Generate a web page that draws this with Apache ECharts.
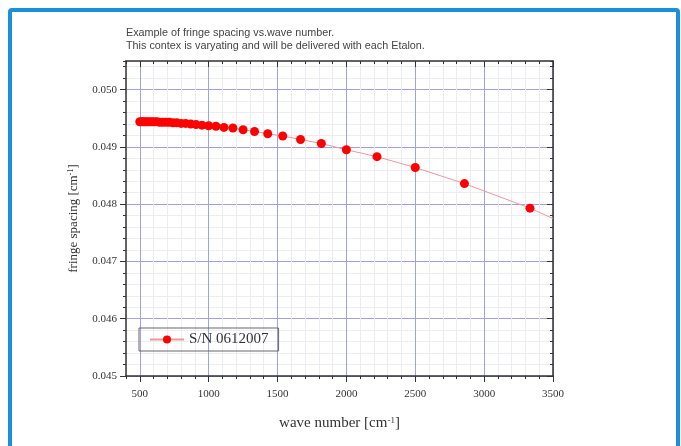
<!DOCTYPE html>
<html>
<head>
<meta charset="utf-8">
<script src="https://cdn.jsdelivr.net/npm/echarts@6/dist/echarts.min.js"></script>
<style>
  html, body { margin: 0; padding: 0; background: #fff; }
  #chart { width: 681px; height: 446px; }
</style>
</head>
<body>
<div id="chart"></div>
<script>
// wave number [cm-1] of each measured point
const waveNumbers = [500, 513, 526, 541, 556, 571, 588, 606, 625, 645, 667, 690, 714, 741, 769, 800, 833, 870, 909, 952,
    1000, 1053, 1111, 1176, 1250, 1333, 1429, 1538, 1667, 1818, 2000, 2222, 2500, 2857, 3333];
// fringe spacing [cm-1]
const fringeSpacing = [0.04944, 0.04944, 0.04944, 0.04944, 0.04944, 0.04944, 0.04944, 0.04944, 0.04944, 0.04943, 0.04943, 0.04943, 0.04943, 0.04942, 0.04942, 0.04941, 0.04941, 0.04940, 0.04939, 0.04938,
    0.04937, 0.04936, 0.04934, 0.04933, 0.04930, 0.04927, 0.04923, 0.04919, 0.04913, 0.04906, 0.04895, 0.04883, 0.04864, 0.04836, 0.04793];
// the fitted curve runs on to the right edge
const fitEnd = [3500, 0.04775];

const xTicks = [500, 1000, 1500, 2000, 2500, 3000, 3500];
const yTicks = [0.045, 0.046, 0.047, 0.048, 0.049, 0.050];
const titleLines = ['Example of fringe spacing vs.wave number.', 'This contex is varyating and will be delivered with each Etalon.'];
const seriesName = 'S/N 0612007';

const MAJOR = '#a0a0e4', MINOR = '#ececf3', AXIS = '#333';
const SERIF = 'Liberation Serif';

const chart = echarts.init(document.getElementById('chart'));

const pts = waveNumbers.map((w, i) => [w, fringeSpacing[i]]);
pts.push({ value: fitEnd, symbol: 'none' });

function xAx(extra) {
    return Object.assign({
        type: 'value', min: 400, max: 3500, interval: 100,
        axisLine: { show: false }, axisTick: { show: false }, axisLabel: { show: false }, splitLine: { show: false }
    }, extra);
}
function yAx(extra) {
    return Object.assign({
        type: 'value', min: 0.045, max: 0.0505, interval: 0.0002,
        axisLine: { show: false }, axisTick: { show: false }, axisLabel: { show: false }, splitLine: { show: false }
    }, extra);
}

chart.setOption({
    animation: false,
    title: {
        text: titleLines.join('\n'),
        left: 121, top: 22,
        textStyle: { fontFamily: 'Liberation Sans', fontSize: 10.8, fontWeight: 'normal', color: '#444', lineHeight: 13 }
    },
    grid: { left: 126, right: 128, top: 61, bottom: 70 },
    legend: {
        left: 139, top: 328,
        data: [seriesName],
        itemWidth: 34, itemHeight: 10, itemGap: 0,
        padding: [4, 10, 4, 10],
        borderColor: '#666', borderWidth: 1,
        textStyle: { fontFamily: SERIF, fontSize: 15, color: '#333' }
    },
    xAxis: [
        xAx({
            position: 'bottom',
            axisLine: { show: true, lineStyle: { color: AXIS, width: 1.5 } },
            axisTick: { show: true, length: 3, lineStyle: { color: AXIS } },
            axisLabel: { show: true, customValues: xTicks, margin: 13, fontFamily: SERIF, fontSize: 11, color: '#333',
                formatter: v => String(v) },
            splitLine: { show: true, lineStyle: { width: 1, color: MINOR } },
            name: 'wave number [cm{sup|-1}]', nameLocation: 'middle', nameGap: 40,
            nameTextStyle: { fontFamily: SERIF, fontSize: 15, color: '#333',
                rich: { sup: { fontFamily: SERIF, fontSize: 9, verticalAlign: 'top', color: '#333' } } }
        }),
        xAx({ position: 'bottom',
            axisTick: { show: true, customValues: xTicks, length: 6, lineStyle: { color: AXIS } },
            splitLine: { show: true, lineStyle: { width: 1, color: MAJOR } } }),
        xAx({ position: 'top',
            axisLine: { show: true, lineStyle: { color: AXIS, width: 1.5 } },
            axisTick: { show: true, inside: true, length: 3, lineStyle: { color: AXIS } } }),
        xAx({ position: 'top', axisTick: { show: true, inside: true, customValues: xTicks, length: 6, lineStyle: { color: AXIS } } })
    ],
    yAxis: [
        yAx({
            position: 'left',
            axisLine: { show: true, lineStyle: { color: AXIS, width: 1.5 } },
            axisTick: { show: true, length: 3, lineStyle: { color: AXIS } },
            axisLabel: { show: true, customValues: yTicks, margin: 9, fontFamily: SERIF, fontSize: 11, color: '#333',
                formatter: v => v.toFixed(3) },
            splitLine: { show: true, lineStyle: { width: 1, color: MINOR } },
            name: 'fringe spacing [cm{sup|-1}]', nameLocation: 'middle', nameGap: 46,
            nameTextStyle: { fontFamily: SERIF, fontSize: 13, color: '#333',
                rich: { sup: { fontFamily: SERIF, fontSize: 8, verticalAlign: 'top', color: '#333' } } }
        }),
        yAx({ position: 'left',
            axisTick: { show: true, customValues: yTicks, length: 6, lineStyle: { color: AXIS } },
            splitLine: { show: true, lineStyle: { width: 1, color: MAJOR } } }),
        yAx({ position: 'right',
            axisLine: { show: true, lineStyle: { color: AXIS, width: 1.5 } },
            axisTick: { show: true, inside: true, length: 3, lineStyle: { color: AXIS } } }),
        yAx({ position: 'right', axisTick: { show: true, inside: true, customValues: yTicks, length: 6, lineStyle: { color: AXIS } } })
    ],
    series: [{
        name: seriesName,
        type: 'line',
        xAxisIndex: 0, yAxisIndex: 0,
        data: pts,
        symbol: 'circle', symbolSize: 9,
        itemStyle: { color: '#ff0000' },
        lineStyle: { color: '#e89a9a', width: 1 },
        z: 5
    }],
    graphic: [{
        type: 'rect', silent: true, z: 100,
        shape: { x: 10, y: 10, width: 668, height: 470, r: 2 },
        style: { fill: 'none', stroke: '#1b8fd8', lineWidth: 4 }
    }]
});
</script>
</body>
</html>
